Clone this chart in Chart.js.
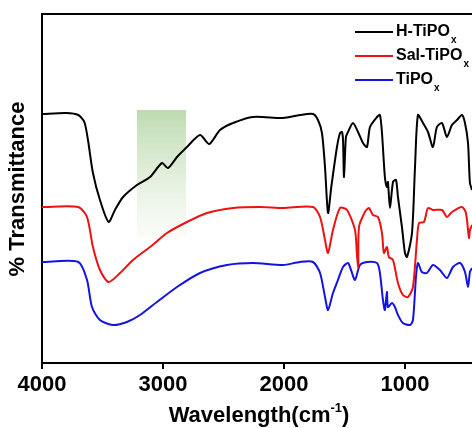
<!DOCTYPE html>
<html>
<head>
<meta charset="utf-8">
<script src="https://cdn.jsdelivr.net/npm/chart.js@4.4.1/dist/chart.umd.min.js"></script>
<style>
  html, body { margin: 0; padding: 0; background: #fff; }
  #wrap { width: 472px; height: 428px; position: relative; }
</style>
</head>
<body>
<div id="wrap"><canvas id="ftir"></canvas></div>
<script>
// FTIR spectra, wavenumber (cm-1) vs. offset transmittance (arbitrary units)

const seriesNames = ['H-TiPO', 'Sal-TiPO', 'TiPO'];
const seriesColors = ['#000000', '#ee1111', '#1414e0'];
const xTicks = [4000, 3000, 2000, 1000];
const xMin = 446, xMax = 4000;

const hWave = [4000, 3800, 3700, 3650, 3620, 3579, 3521, 3450, 3397, 3330, 3215, 3107, 3008, 2959, 2884, 2802, 2694, 2618, 2529, 2421, 2256, 2008, 1868, 1760, 1719, 1686, 1661, 1636, 1609, 1562, 1537, 1521, 1512, 1504, 1488, 1471, 1430, 1388, 1347, 1314, 1289, 1231, 1207, 1190, 1166, 1149, 1141, 1124, 1099, 1074, 1058, 1025, 1000, 983, 942, 917, 893, 851, 810, 769, 736, 694, 653, 612, 570, 529, 504, 479, 463, 445];
const hTrans = [249, 250, 248, 241, 223, 190, 163, 141, 153, 166, 178, 186, 200, 195, 206, 216, 228, 219, 233, 240, 246, 245, 248, 249, 243, 230, 196, 150, 176, 216, 230, 231, 223, 186, 226, 231, 240, 231, 220, 216, 236, 246, 248, 230, 186, 176, 181, 155, 181, 183, 166, 136, 110, 106, 130, 196, 248, 240, 231, 216, 236, 240, 226, 238, 243, 248, 240, 220, 180, 173];

const salWave = [4000, 3700, 3628, 3579, 3521, 3450, 3355, 3248, 3107, 2967, 2802, 2636, 2421, 2198, 2008, 1760, 1702, 1661, 1636, 1595, 1537, 1479, 1413, 1397, 1386, 1380, 1331, 1298, 1265, 1223, 1190, 1174, 1149, 1133, 1099, 1058, 1017, 975, 934, 901, 884, 843, 810, 769, 694, 653, 612, 529, 496, 471, 463, 445];
const salTrans = [156, 156, 146, 116, 93, 81, 90, 103, 116, 130, 141, 150, 155, 156, 155, 156, 146, 123, 110, 133, 155, 153, 133, 108, 96, 136, 151, 155, 148, 146, 130, 110, 116, 106, 103, 80, 68, 66, 76, 123, 140, 141, 155, 153, 153, 146, 151, 156, 150, 125, 133, 138];

const tiWave = [4000, 3700, 3628, 3587, 3521, 3413, 3298, 3190, 3050, 2884, 2694, 2471, 2256, 2008, 1868, 1760, 1702, 1661, 1636, 1595, 1554, 1512, 1471, 1446, 1413, 1372, 1314, 1231, 1207, 1182, 1166, 1149, 1141, 1108, 1083, 1058, 1017, 959, 934, 909, 893, 860, 818, 769, 711, 653, 603, 545, 504, 479, 463, 445];
const tiTrans = [101, 101, 83, 56, 43, 38, 41, 48, 61, 76, 90, 98, 100, 98, 101, 101, 90, 66, 53, 70, 83, 96, 100, 93, 83, 98, 101, 100, 90, 63, 53, 71, 56, 60, 56, 48, 40, 38, 43, 86, 100, 91, 90, 98, 93, 85, 96, 100, 91, 76, 91, 95];

// highlighted band (wavenumber range and transmittance range)
const bandWave = [3215, 2810];
const bandTrans = [253, 126];

const toPoints = (xs, ys) => xs.map((x, i) => ({ x, y: ys[i] }));
const waves = [hWave, salWave, tiWave];
const trans = [hTrans, salTrans, tiTrans];

const FONT = '"Liberation Sans", Arial, sans-serif';

const decorPlugin = {
  id: 'decor',
  beforeDatasetsDraw(chart) {
    const { ctx, scales: { x, y } } = chart;
    const x1 = x.getPixelForValue(bandWave[0]);
    const x2 = x.getPixelForValue(bandWave[1]);
    const y1 = y.getPixelForValue(bandTrans[0]);
    const y2 = y.getPixelForValue(bandTrans[1]);
    const g = ctx.createLinearGradient(0, y1, 0, y2);
    g.addColorStop(0, 'rgba(190,219,176,1)');
    g.addColorStop(1, 'rgba(245,250,242,0.6)');
    ctx.save();
    ctx.fillStyle = g;
    ctx.fillRect(x1, y1, x2 - x1, y2 - y1);
    ctx.restore();
  },
  afterDraw(chart) {
    const { ctx, chartArea: a } = chart;
    ctx.save();
    // top frame line
    ctx.strokeStyle = '#000';
    ctx.lineWidth = 2;
    ctx.beginPath();
    ctx.moveTo(a.left, a.top);
    ctx.lineTo(a.right, a.top);
    ctx.stroke();

    // legend
    seriesNames.forEach((name, i) => {
      const ly = 32 + i * 24;
      ctx.strokeStyle = seriesColors[i];
      ctx.lineWidth = 2;
      ctx.beginPath();
      ctx.moveTo(355, ly);
      ctx.lineTo(393, ly);
      ctx.stroke();
      ctx.fillStyle = '#000';
      ctx.textBaseline = 'middle';
      ctx.textAlign = 'left';
      ctx.font = 'bold 16px ' + FONT;
      ctx.fillText(name, 396, ly);
      const w = ctx.measureText(name).width;
      ctx.font = 'bold 10px ' + FONT;
      ctx.fillText('x', 396 + w + 1, ly + 8);
    });

    // x axis title with superscript
    ctx.fillStyle = '#000';
    ctx.textBaseline = 'alphabetic';
    ctx.textAlign = 'left';
    ctx.font = 'bold 22px ' + FONT;
    const base = 'Wavelength(cm';
    const wBase = ctx.measureText(base).width;
    ctx.font = 'bold 13px ' + FONT;
    const sup = '-1';
    const wSup = ctx.measureText(sup).width;
    ctx.font = 'bold 22px ' + FONT;
    const wEnd = ctx.measureText(')').width;
    const total = wBase + wSup + wEnd;
    const cx = (a.left + a.right) / 2 + 2;
    let tx = cx - total / 2;
    const by = 422;
    ctx.fillText(base, tx, by);
    tx += wBase;
    ctx.font = 'bold 13px ' + FONT;
    ctx.fillText(sup, tx, by - 10);
    tx += wSup;
    ctx.font = 'bold 22px ' + FONT;
    ctx.fillText(')', tx, by);

    // y axis title
    ctx.translate(18, 189);
    ctx.rotate(-Math.PI / 2);
    ctx.textAlign = 'center';
    ctx.textBaseline = 'middle';
    ctx.fillText('% Transmittance', 0, 0);
    ctx.restore();
  }
};

new Chart(document.getElementById('ftir').getContext('2d'), {
  type: 'line',
  data: {
    datasets: seriesNames.map((name, i) => ({
      label: name + 'x',
      data: toPoints(waves[i], trans[i]),
      borderColor: seriesColors[i],
      borderWidth: 2,
      pointRadius: 0,
      tension: 0.25,
      fill: false
    }))
  },
  options: {
    responsive: true,
    maintainAspectRatio: false,
    animation: false,
    layout: { padding: { top: 14, right: 0, left: 0, bottom: 0 } },
    plugins: {
      legend: { display: false },
      tooltip: { enabled: false }
    },
    scales: {
      x: {
        type: 'linear',
        reverse: true,
        min: xMin,
        max: xMax,
        afterBuildTicks: scale => { scale.ticks = xTicks.map(v => ({ value: v })); },
        afterFit: scale => { scale.height = 65; },
        ticks: {
          color: '#000',
          padding: 3,
          maxRotation: 0,
          autoSkip: false,
          callback: v => String(v),
          font: { family: FONT, size: 22, weight: 'bold' }
        },
        grid: {
          drawOnChartArea: false,
          drawTicks: true,
          tickLength: 6,
          color: '#000',
          lineWidth: 2
        },
        border: { display: true, color: '#000', width: 2 }
      },
      y: {
        min: 0,
        max: 349,
        afterFit: scale => { scale.width = 42; },
        ticks: { display: false },
        grid: { display: false, drawTicks: false },
        border: { display: true, color: '#000', width: 2 }
      }
    }
  },
  plugins: [decorPlugin]
});
</script>
</body>
</html>
